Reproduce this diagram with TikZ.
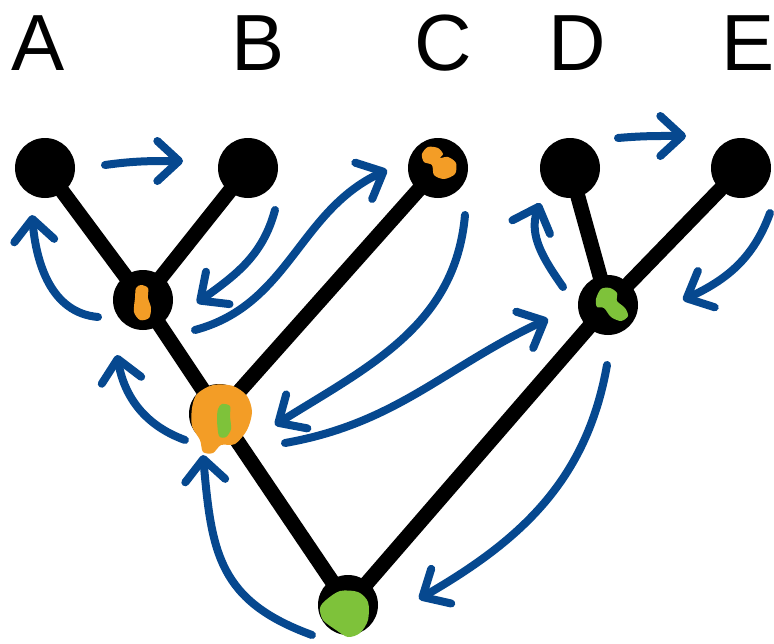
\documentclass[tikz,border=0pt]{standalone}
\usepackage{fontspec}
\setmainfont{Liberation Sans}
\usetikzlibrary{calc}
\usetikzlibrary{arrows.meta}
\usetikzlibrary{positioning}

\definecolor{walkblue}{RGB}{6,72,143}
\definecolor{paintorange}{RGB}{243,157,38}
\definecolor{paintgreen}{RGB}{126,194,58}

\begin{document}
\begin{tikzpicture}[x=0.3mm, y=0.3mm,
    vertex/.style={circle, fill=black, inner sep=0, minimum size=18mm},
    branch/.style={line width=4.5mm},
    taxon/.style={anchor=base, inner sep=0, font=\fontsize{68}{80}\selectfont},
    walk/.style={draw=walkblue, line width=2.4mm, line cap=round, line join=round,
      -{Straight Barb[length=6.5mm, width=12mm, round]}}
  ]
  \useasboundingbox (0,0) rectangle (774,-643);

  % leaves and their names
  \node[vertex] (A) at (45,-168) {};
  \node[vertex] (B) at (248,-168) {};
  \node[vertex] (C) at (438,-168) {};
  \node[vertex] (D) at (570,-168) {};
  \node[vertex] (E) at (741,-168) {};
  \node[taxon] (labA) at (38,-70) {A};
  \node[taxon] (labB) at (258,-70) {B};
  \node[taxon] (labC) at (443,-70) {C};
  \node[taxon] (labD) at (577,-70) {D};
  \node[taxon] (labE) at (748,-70) {E};

  % inner vertices
  \node[vertex] (AB) at (143,-300) {};
  \node[vertex] (ABC) at (219,-414) {};
  \node[vertex] (DE) at (608,-305) {};
  \node[vertex] (root) at (348,-605) {};

  \draw[branch] (A.center) -- (AB.center);
  \draw[branch] (B.center) -- (AB.center);
  \draw[branch] (AB.center) -- (ABC.center);
  \draw[branch] (C.center) -- (ABC.center);
  \draw[branch] (ABC.center) -- (root.center);
  \draw[branch] (D.center) -- (DE.center);
  \draw[branch] (E.center) -- (DE.center);
  \draw[branch] (DE.center) -- (root.center);

  % paint marks
  \fill[paintorange, shift={(AB)}] plot[smooth cycle] coordinates
    {(-2,15) (5,12) (5,2) (8,-8) (6,-18) (-3,-20) (-9,-12) (-8,2) (-7,12)};
  \fill[paintorange, shift={(C)}] plot[smooth cycle] coordinates
    {(-16,14) (-10,21) (0,20) (5,14) (2,10) (10,11) (18,5) (17,-6) (6,-11) (-4,-7) (-6,3) (-14,6)};
  \fill[paintorange, shift={(ABC)}] plot[smooth cycle] coordinates
    {(-22,20) (-6,29) (14,28) (28,18) (33,2) (28,-16) (16,-30) (2,-31) (-6,-39) (-16,-38) (-19,-26) (-27,-12) (-27,6)};
  \fill[paintgreen, shift={(ABC)}] plot[smooth cycle] coordinates
    {(3,10) (11,8) (11,-2) (12,-15) (7,-23) (0,-22) (-2,-6) (-1,5)};
  \fill[paintgreen, shift={(DE)}] plot[smooth cycle] coordinates
    {(-12,6) (-7,16) (2,17) (9,12) (9,4) (17,-3) (20,-11) (13,-16) (3,-12) (-4,-3) (-11,-2)};
  \fill[paintgreen, shift={(root)}] plot[smooth cycle] coordinates
    {(-22,5) (-8,14) (10,13) (20,3) (20,-15) (12,-28) (0,-32) (-12,-25) (-25,-15) (-28,-3)};

  % walk round the tree
  \draw[walk] ($(root)+(-36,-30)$) to[out=160, in=-85, looseness=1.2] ($(ABC)+(-16,-41)$);
  \draw[walk] ($(ABC)+(-34,-26)$) to[out=160, in=-80] ($(AB)+(-26,-55)$);
  \draw[walk] ($(AB)+(-45,-17)$) to[out=175, in=-85] ($(A)+(-13,-47)$);
  \draw[walk] ($(A)+(60,3)$) to[out=8, in=180] ($(B)+(-65,7)$);
  \draw[walk] ($(B)+(27,-42)$) to[out=-105, in=36] ($(AB)+(54,-3)$);
  \draw[walk] ($(AB)+(52,-30)$) to[out=15, in=205] ($(C)+(-51,-2)$);
  \draw[walk] ($(C)+(27,-47)$) to[out=-95, in=32] ($(ABC)+(56,-11)$);
  \draw[walk] ($(ABC)+(66,-29)$) to[out=10, in=205] ($(DE)+(-60,-14)$);
  \draw[walk] ($(DE)+(-45,18)$) to[out=125, in=-110] ($(D)+(-30,-35)$);
  \draw[walk] ($(D)+(48,30)$) to[out=5, in=180] ($(E)+(-55,32)$);
  \draw[walk] ($(E)+(29,-45)$) to[out=-110, in=25] ($(DE)+(75,5)$);
  \draw[walk] ($(DE)+(-1,-60)$) to[out=-100, in=30] ($(root)+(71,6)$);
\end{tikzpicture}
\end{document}
